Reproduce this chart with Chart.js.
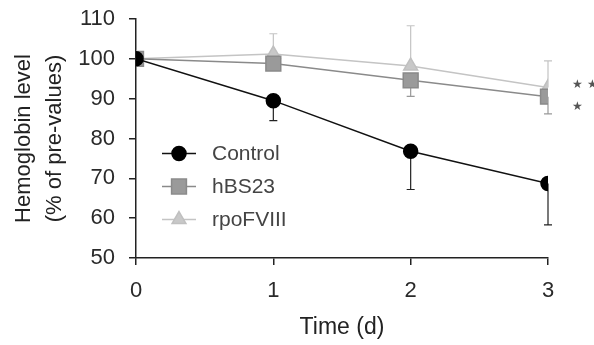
<!DOCTYPE html>
<html>
<head>
<meta charset="utf-8">
<script src="https://cdn.jsdelivr.net/npm/chart.js@4/dist/chart.umd.min.js"></script>
<style>
  html, body { margin: 0; padding: 0; background: #fff; }
  #wrap { width: 594px; height: 345px; }
</style>
</head>
<body>
<div id="wrap"><canvas id="myChart" width="594" height="345"></canvas></div>
<script>
const days = [0, 1, 2, 3];
const seriesNames = ["Control", "hBS23", "rpoFVIII"];
const controlVals = [100, 89.5, 76.8, 68.7];
const hbsVals = [100, 98.8, 94.6, 90.5];
const rpoVals = [100, 101.2, 98.2, 92.8];
// error bar ends (only one side is visible in the figure)
const controlLow = [null, 84.5, 67.2, 58.3];
const hbsLow = [null, 97.3, 90.6, 86.2];
const rpoHigh = [null, 106.3, 108.3, 99.5];
const yTicks = [50, 60, 70, 80, 90, 100, 110];

const textCol = "#2a2a2a";
const font = "'Liberation Sans', Arial, sans-serif";

const toXY = (vals) => vals.map((v, i) => ({ x: days[i], y: v }));

const errorBars = {
  id: "errorBars",
  beforeDatasetsDraw(chart) {
    const { ctx, scales } = chart;
    const sets = [
      [controlLow, "#222"],
      [hbsLow, "#999"],
      [rpoHigh, "#c4c4c4"],
    ];
    ctx.save();
    ctx.lineWidth = 1.2;
    sets.forEach(([ends, col], k) => {
      const vals = chart.data.datasets[k].data;
      ctx.strokeStyle = col;
      ends.forEach((e, i) => {
        if (e == null) return;
        const x = scales.x.getPixelForValue(days[i]);
        const y0 = scales.y.getPixelForValue(vals[i].y);
        const y1 = scales.y.getPixelForValue(e);
        ctx.beginPath();
        ctx.moveTo(x, y0);
        ctx.lineTo(x, y1);
        ctx.moveTo(x - 4, y1);
        ctx.lineTo(x + 4, y1);
        ctx.stroke();
      });
    });
    ctx.restore();
  },
};

const legendBox = {
  id: "legendBox",
  afterDraw(chart) {
    const { ctx, scales } = chart;
    const x0 = scales.x.getPixelForValue(0) + 26;
    let y = scales.y.getPixelForValue(80) + 15;
    ctx.save();
    chart.data.datasets.forEach((ds) => {
      ctx.strokeStyle = ds.borderColor;
      ctx.lineWidth = 1.5;
      ctx.beginPath();
      ctx.moveTo(x0, y);
      ctx.lineTo(x0 + 34, y);
      ctx.stroke();
      ctx.fillStyle = ds.pointBackgroundColor;
      ctx.strokeStyle = ds.pointBorderColor;
      Chart.helpers.drawPoint(ctx, {
        pointStyle: ds.pointStyle, radius: ds.pointRadius, borderWidth: 1, rotation: 0,
      }, x0 + 17, y);
      ctx.fillStyle = "#444";
      ctx.font = "21px " + font;
      ctx.textBaseline = "middle";
      ctx.fillText(ds.label, x0 + 50, y + 1);
      y += 33;
    });
    // significance marks
    const xs = scales.x.getPixelForValue(3) + 29;
    ctx.fillStyle = "#555";
    ctx.font = "12px " + font;
    ctx.textAlign = "center";
    ctx.fillText("\u2605", xs, scales.y.getPixelForValue(93.5));
    ctx.fillText("\u2605", xs + 15, scales.y.getPixelForValue(93.5));
    ctx.fillText("\u2605", xs, scales.y.getPixelForValue(88));
    ctx.restore();
  },
};

const data = {
  datasets: [
    {
      label: seriesNames[0],
      data: toXY(controlVals),
      borderColor: "#111",
      pointBackgroundColor: "#000",
      pointBorderColor: "#000",
      pointStyle: "circle",
      pointRadius: 7,
      borderWidth: 1.5,
    },
    {
      label: seriesNames[1],
      data: toXY(hbsVals),
      borderColor: "#8a8a8a",
      pointBackgroundColor: "#9a9a9a",
      pointBorderColor: "#8a8a8a",
      pointStyle: "rect",
      pointRadius: 10.5,
      borderWidth: 1.5,
    },
    {
      label: seriesNames[2],
      data: toXY(rpoVals),
      borderColor: "#c4c4c4",
      pointBackgroundColor: "#c8c8c8",
      pointBorderColor: "#c0c0c0",
      pointStyle: "triangle",
      pointRadius: 8,
      borderWidth: 1.5,
    },
  ],
};

const config = {
  type: "line",
  data: data,
  options: {
    responsive: false,
    animation: false,
    layout: { padding: { top: 19, right: 46, left: 0, bottom: 0 } },
    plugins: { legend: { display: false }, tooltip: { enabled: false } },
    scales: {
      x: {
        type: "linear",
        min: 0,
        max: 3,
        afterFit: (s) => { s.height = 87; s.paddingLeft = 0; s.paddingRight = 0; },
        afterBuildTicks: (s) => { s.ticks = days.map((d) => ({ value: d })); },
        grid: { display: true, drawOnChartArea: false, drawTicks: true, tickLength: 7, color: "#222", lineWidth: 1.5 },
        border: { display: true, color: "#222", width: 1.5 },
        ticks: { color: textCol, font: { family: font, size: 22 }, padding: 13 },
        title: { display: true, text: "Time (d)", color: "#222", font: { family: font, size: 23 }, padding: { top: 2 } },
      },
      y: {
        min: 50,
        max: 110,
        afterFit: (s) => { s.width = 136; s.paddingTop = 0; s.paddingBottom = 0; },
        afterBuildTicks: (s) => { s.ticks = yTicks.map((v) => ({ value: v })); },
        grid: { display: true, drawOnChartArea: false, drawTicks: true, tickLength: 7, color: "#222", lineWidth: 1.5 },
        border: { display: true, color: "#222", width: 1.5 },
        ticks: { color: textCol, font: { family: font, size: 22 }, padding: 14 },
        title: {
          display: true,
          text: ["Hemoglobin level", "(% of pre-values)"],
          color: "#222",
          font: { family: font, size: 22, lineHeight: 1.4 },
          padding: { top: 9, bottom: 2 },
        },
      },
    },
  },
  plugins: [errorBars, legendBox],
};

const ctx = document.getElementById("myChart").getContext("2d");
const myChart = new Chart(ctx, config);
</script>
</body>
</html>
